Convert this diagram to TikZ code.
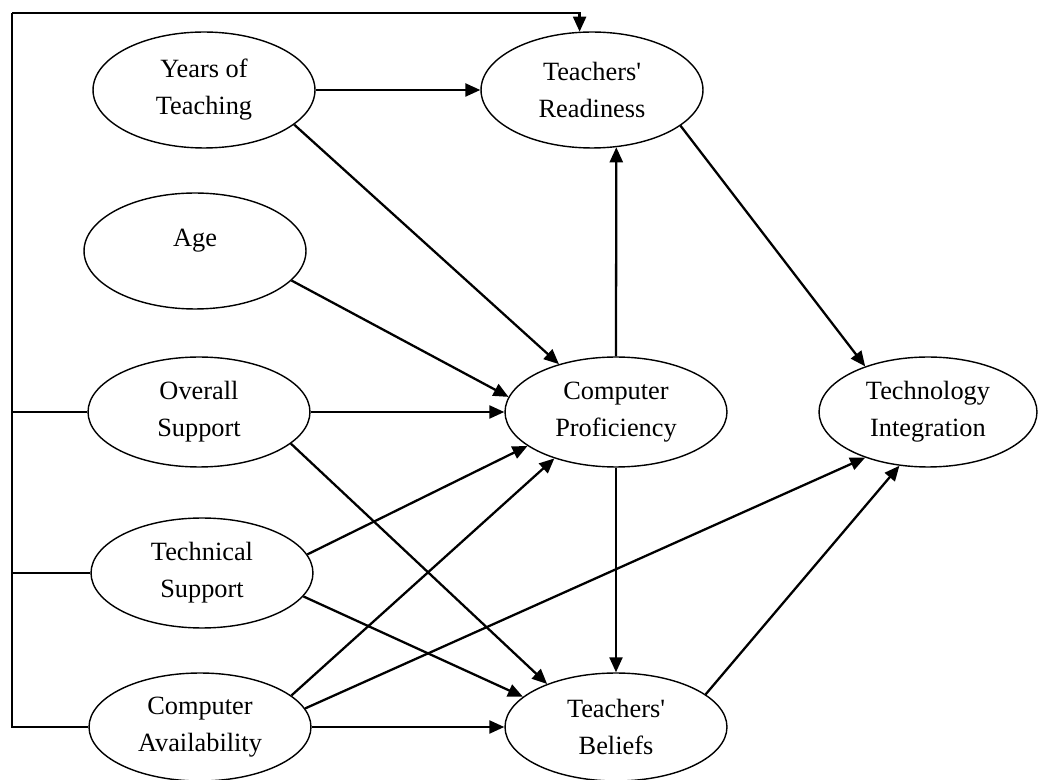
\documentclass[tikz,border=0pt]{standalone}
\usepackage{fontspec}
\setmainfont{Liberation Serif}
\usetikzlibrary{arrows.meta,shapes.geometric}

\begin{document}
\begin{tikzpicture}[
  x=0.02cm,y=-0.02cm,
  var/.style={ellipse,draw,line width=0.8pt,minimum width=4.44cm,minimum height=2.2cm,inner sep=0pt,align=center,font=\fontsize{15}{21}\selectfont},
  ar/.style={-{Triangle[length=3mm,width=2.6mm]},line width=1.3pt},
  ln/.style={line width=1.3pt}
]
\useasboundingbox (0,0) rectangle (1039,780);

% exogenous variables
\node[var,minimum height=2.32cm] (yrs) at (204,90) {Years of\\Teaching};
\node[var,minimum height=2.32cm] (age) at (195,251) {Age\\[-6pt]\mbox{}};
\node[var] (ovr) at (199,412) {Overall\\Support};
\node[var] (tech) at (202,573) {Technical\\Support};
\node[var,minimum height=2.16cm] (avail) at (200,727) {Computer\\Availability};

% mediators and outcome
\node[var,minimum height=2.32cm] (ready) at (592,90) {Teachers\textquotesingle\\Readiness};
\node[var] (prof) at (616,412) {Computer\\Proficiency};
\node[var,minimum height=2.16cm] (beli) at (616,727) {Teachers\textquotesingle\\Beliefs};
\node[var,minimum width=4.36cm] (integ) at (928,412) {Technology\\Integration};

\coordinate (corner) at (12,13);

% support / availability feed into readiness
\draw[ln] (avail.west) -- (avail.west -| corner) -- (corner);
\draw[ln] (ovr.west) -- (ovr.west -| corner);
\draw[ln] (tech.west) -- (tech.west -| corner);
\draw[ar] (corner) -| (ready.102);

\draw[ar] (yrs.east) -- (ready.west);
\draw[ar] (yrs.-21) -- (prof.140);
\draw[ar] (age.-17) -- (prof.172);
\draw[ar] (ovr.east) -- (prof.west);
\draw[ar] (ovr.-19) -- (beli.148);
\draw[ar] (tech.10) -- (prof.201);
\draw[ar] (tech.-13) -- (beli.162);
\draw[ar] (avail.19) -- (prof.217);
\draw[ar] (avail.10) -- (integ.216);
\draw[ar] (avail.east) -- (beli.west);
\draw[ar] (prof.north) -- (ready.-67);
\draw[ar] (prof.south) -- (beli.north);
\draw[ar] (ready.-22) -- (integ.144);
\draw[ar] (beli.20) -- (integ.242);
\end{tikzpicture}
\end{document}
